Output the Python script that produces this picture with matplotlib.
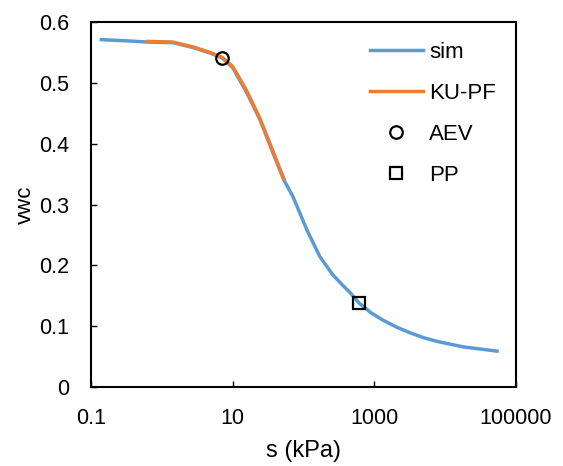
import matplotlib.pyplot as plt
import matplotlib.ticker as mticker

plt.rcParams['font.family'] = ['Liberation Sans', 'DejaVu Sans']

# simulated curve (s in kPa, volumetric water content)
sim_s = [0.14, 0.32, 0.64, 1.44, 2.76, 4.8, 7.1, 10, 15.8, 24.4, 37, 53, 71,
         112, 171, 261, 360, 456, 610, 900, 1320, 2100, 3220, 5000, 7700,
         17900, 54000]
sim_vwc = [0.571, 0.569, 0.567, 0.566, 0.558, 0.549, 0.541, 0.525, 0.484, 0.439,
           0.385, 0.340, 0.313, 0.258, 0.214, 0.184, 0.167, 0.155, 0.138, 0.122,
           0.110, 0.098, 0.089, 0.081, 0.075, 0.066, 0.059]

# KU-PF fit
ku_s = [0.64, 1.44, 2.76, 4.8, 7.1, 10, 15.8, 24.4, 37, 53]
ku_vwc = [0.568, 0.567, 0.559, 0.550, 0.542, 0.527, 0.487, 0.441, 0.388, 0.342]

# characteristic points
aev_s, aev_vwc = [7.1], [0.541]
pp_s, pp_vwc = [610], [0.138]

fig = plt.figure(figsize=(5.63, 4.66), dpi=100)
ax = fig.add_axes([0.1616, 0.1695, 0.7549, 0.7833])

ax.plot(sim_s, sim_vwc, color='#5B9BD5', lw=2.5, label='sim')
ax.plot(ku_s, ku_vwc, color='#ED7D31', lw=2.5, label='KU-PF')
ax.plot(aev_s, aev_vwc, 'o', mfc='none', mec='black', mew=1.6, ms=9, label='AEV')
ax.plot(pp_s, pp_vwc, 's', mfc='none', mec='black', mew=1.6, ms=9, label='PP')

ax.set_xscale('log')
ax.set_xlim(0.1, 100000)
ax.set_ylim(0, 0.6)
ax.xaxis.set_major_locator(mticker.FixedLocator([0.1, 10, 1000, 100000]))
ax.xaxis.set_minor_locator(mticker.NullLocator())
ax.xaxis.set_major_formatter(mticker.FixedFormatter(['0.1', '10', '1000', '100000']))
ax.set_yticks([0, 0.1, 0.2, 0.3, 0.4, 0.5, 0.6])
ax.set_yticklabels(['0', '0.1', '0.2', '0.3', '0.4', '0.5', '0.6'])
ax.tick_params(direction='in', length=4, width=1, labelsize=15.5, colors='black')
ax.tick_params(axis='x', pad=15)
ax.tick_params(axis='y', pad=16)
for sp in ax.spines.values():
    sp.set_linewidth(1.5)

ax.set_xlabel('s (kPa)', fontsize=17, labelpad=8)
ax.set_ylabel('vwc', fontsize=16, labelpad=2)

ax.legend(loc='upper right', frameon=False, fontsize=16, handlelength=2.4,
          handletextpad=0.27, labelspacing=0.9, bbox_to_anchor=(1.0, 1.0))

fig.savefig('out.png', dpi=100)
